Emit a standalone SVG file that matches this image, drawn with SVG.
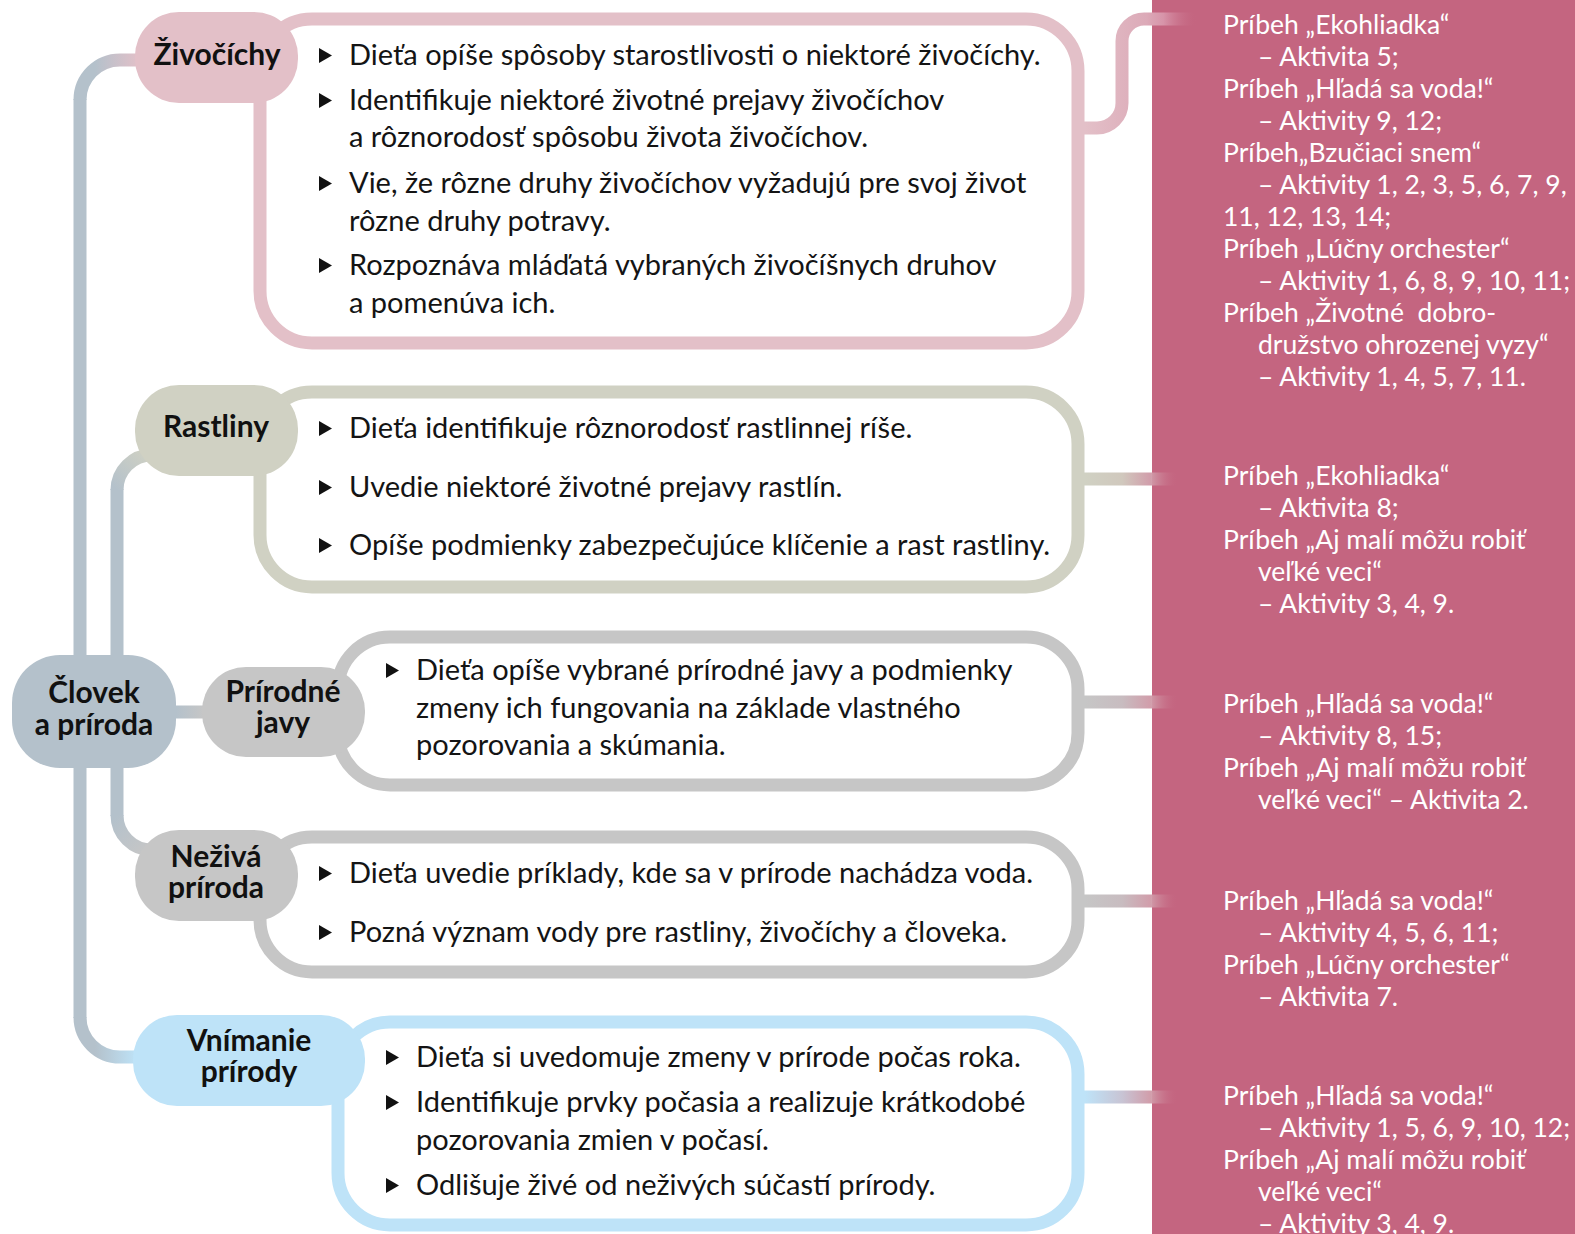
<svg xmlns="http://www.w3.org/2000/svg" width="1575" height="1234" viewBox="0 0 1575 1234">
<style>
.box{fill:#fff;stroke-width:13}
.t{font-family:Lato,"Liberation Sans",sans-serif;font-size:29px;fill:#141414}
.lb{font-family:Lato,"Liberation Sans",sans-serif;font-size:30px;font-weight:700;fill:#111;text-anchor:middle}
.r{font-family:Lato,"Liberation Sans",sans-serif;font-size:26.5px;fill:#fff}
.c{fill:none;stroke-width:13}
</style>
<defs>
<path id="bul" d="M0,-7.5 L13,0 L0,7.5 Z" fill="#111"/>
<linearGradient id="gZ" gradientUnits="userSpaceOnUse" x1="1085" y1="0" x2="1197" y2="0">
<stop offset="0" stop-color="#e3c0c8"/><stop offset="0.55" stop-color="#dcaab8"/><stop offset="0.7" stop-color="#d794a9"/><stop offset="1" stop-color="#c46580" stop-opacity="0"/>
</linearGradient>
<linearGradient id="gR" gradientUnits="userSpaceOnUse" x1="1085" y1="0" x2="1178" y2="0">
<stop offset="0" stop-color="#d0d1c3"/><stop offset="0.4" stop-color="#d0c8bd"/><stop offset="0.7" stop-color="#d19eab"/><stop offset="1" stop-color="#c46580" stop-opacity="0"/>
</linearGradient>
<linearGradient id="gG" gradientUnits="userSpaceOnUse" x1="1085" y1="0" x2="1178" y2="0">
<stop offset="0" stop-color="#c6c6c6"/><stop offset="0.4" stop-color="#c8bcc0"/><stop offset="0.7" stop-color="#d19eab"/><stop offset="1" stop-color="#c46580" stop-opacity="0"/>
</linearGradient>
<linearGradient id="gV" gradientUnits="userSpaceOnUse" x1="1085" y1="0" x2="1178" y2="0">
<stop offset="0" stop-color="#bee3f8"/><stop offset="0.4" stop-color="#c8c4d4"/><stop offset="0.7" stop-color="#d19eab"/><stop offset="1" stop-color="#c46580" stop-opacity="0"/>
</linearGradient>
<linearGradient id="gTop" gradientUnits="userSpaceOnUse" x1="95" y1="0" x2="140" y2="0">
<stop offset="0" stop-color="#b4c1cb"/><stop offset="1" stop-color="#e3c0c8"/>
</linearGradient>
<linearGradient id="gBot" gradientUnits="userSpaceOnUse" x1="95" y1="0" x2="138" y2="0">
<stop offset="0" stop-color="#b4c1cb"/><stop offset="1" stop-color="#bee3f8"/>
</linearGradient>
<linearGradient id="gRa" gradientUnits="userSpaceOnUse" x1="117" y1="490" x2="150" y2="452">
<stop offset="0" stop-color="#b4c1cb"/><stop offset="1" stop-color="#d0d1c3"/>
</linearGradient>
<linearGradient id="gNe" gradientUnits="userSpaceOnUse" x1="117" y1="815" x2="150" y2="850">
<stop offset="0" stop-color="#b4c1cb"/><stop offset="1" stop-color="#c6c6c6"/>
</linearGradient>
<linearGradient id="gPr" gradientUnits="userSpaceOnUse" x1="176" y1="0" x2="204" y2="0">
<stop offset="0" stop-color="#b4c1cb"/><stop offset="1" stop-color="#c6c6c6"/>
</linearGradient>
</defs>

<rect id="panel" x="1152" y="0" width="423" height="1234" fill="#c46580"/>

<g id="connectors">
<path class="c" stroke="url(#gTop)" d="M145,60 H120 A40,40 0 0 0 80,100"/>
<path class="c" stroke="#b4c1cb" d="M80,99 V1018"/>
<path class="c" stroke="url(#gBot)" d="M80,1017 A40,40 0 0 0 120,1057 H142"/>
<path class="c" stroke="#b4c1cb" d="M117,670 V489"/>
<path class="c" stroke="url(#gRa)" d="M117,490 A35,35 0 0 1 152,455"/>
<path class="c" stroke="#b4c1cb" d="M117,760 V816"/>
<path class="c" stroke="url(#gNe)" d="M117,815 A35,35 0 0 0 152,850"/>
<path class="c" stroke="url(#gPr)" d="M170,712 H210"/>
<path class="c" stroke="url(#gZ)" d="M1080,128 H1097 A25,25 0 0 0 1122,103 V41 A22,22 0 0 1 1144,19 H1197"/>
<path class="c" stroke="url(#gR)" d="M1080,479 H1178"/>
<path class="c" stroke="url(#gG)" d="M1080,702 H1178"/>
<path class="c" stroke="url(#gG)" d="M1080,901 H1178"/>
<path class="c" stroke="url(#gV)" d="M1080,1097 H1178"/>
</g>

<g id="node-clovek">
<rect x="12" y="655" width="164" height="113" rx="48" fill="#b4c1cb"/>
<text class="lb" x="94" y="703">Človek</text>
<text class="lb" x="94" y="735">a príroda</text>
</g>

<g id="node-zivocichy">
<rect class="box" x="260" y="19" width="818" height="324" rx="52" stroke="#e3c0c8"/>
<rect x="135" y="12" width="163" height="91" rx="44" fill="#e3c0c8"/>
<text class="lb" x="217" y="65">Živočíchy</text>
<use href="#bul" x="319" y="55.5"/>
<text class="t" x="349" y="65">Dieťa opíše spôsoby starostlivosti o niektoré živočíchy.</text>
<use href="#bul" x="319" y="100.5"/>
<text class="t" x="349" y="110">Identifikuje niektoré životné prejavy živočíchov</text>
<text class="t" x="349" y="147">a rôznorodosť spôsobu života živočíchov.</text>
<use href="#bul" x="319" y="183.5"/>
<text class="t" x="349" y="193">Vie, že rôzne druhy živočíchov vyžadujú pre svoj život</text>
<text class="t" x="349" y="231">rôzne druhy potravy.</text>
<use href="#bul" x="319" y="265.5"/>
<text class="t" x="349" y="275">Rozpoznáva mláďatá vybraných živočíšnych druhov</text>
<text class="t" x="349" y="313">a pomenúva ich.</text>
</g>

<g id="node-rastliny">
<rect class="box" x="260" y="392" width="818" height="195" rx="52" stroke="#d0d1c3"/>
<rect x="135" y="385" width="163" height="91" rx="44" fill="#d0d1c3"/>
<text class="lb" x="216" y="437">Rastliny</text>
<use href="#bul" x="319" y="428.5"/>
<text class="t" x="349" y="438">Dieťa identifikuje rôznorodosť rastlinnej ríše.</text>
<use href="#bul" x="319" y="487.5"/>
<text class="t" x="349" y="497">Uvedie niektoré životné prejavy rastlín.</text>
<use href="#bul" x="319" y="545.5"/>
<text class="t" x="349" y="555">Opíše podmienky zabezpečujúce klíčenie a rast rastliny.</text>
</g>

<g id="node-prirodne-javy">
<rect class="box" x="338" y="637" width="740" height="148" rx="52" stroke="#c6c6c6"/>
<rect x="202" y="667" width="163" height="90" rx="44" fill="#c6c6c6"/>
<text class="lb" x="283" y="702">Prírodné</text>
<text class="lb" x="283" y="733">javy</text>
<use href="#bul" x="386" y="670.5"/>
<text class="t" x="416" y="680">Dieťa opíše vybrané prírodné javy a podmienky</text>
<text class="t" x="416" y="718">zmeny ich fungovania na základe vlastného</text>
<text class="t" x="416" y="755">pozorovania a skúmania.</text>
</g>

<g id="node-neziva-priroda">
<rect class="box" x="260" y="837" width="818" height="135" rx="52" stroke="#c6c6c6"/>
<rect x="135" y="830" width="163" height="91" rx="44" fill="#c6c6c6"/>
<text class="lb" x="216" y="867">Neživá</text>
<text class="lb" x="216" y="898">príroda</text>
<use href="#bul" x="319" y="873.5"/>
<text class="t" x="349" y="883">Dieťa uvedie príklady, kde sa v prírode nachádza voda.</text>
<use href="#bul" x="319" y="932.5"/>
<text class="t" x="349" y="942">Pozná význam vody pre rastliny, živočíchy a človeka.</text>
</g>

<g id="node-vnimanie-prirody">
<rect class="box" x="338" y="1022" width="740" height="203" rx="52" stroke="#bee3f8"/>
<rect x="133" y="1015" width="232" height="91" rx="44" fill="#bee3f8"/>
<text class="lb" x="249" y="1051">Vnímanie</text>
<text class="lb" x="249" y="1082">prírody</text>
<use href="#bul" x="386" y="1057.5"/>
<text class="t" x="416" y="1067">Dieťa si uvedomuje zmeny v prírode počas roka.</text>
<use href="#bul" x="386" y="1102.5"/>
<text class="t" x="416" y="1112">Identifikuje prvky počasia a realizuje krátkodobé</text>
<text class="t" x="416" y="1150">pozorovania zmien v počasí.</text>
<use href="#bul" x="386" y="1185.5"/>
<text class="t" x="416" y="1195">Odlišuje živé od neživých súčastí prírody.</text>
</g>

<g id="ref-zivocichy">
<text class="r" x="1223" y="34">Príbeh „Ekohliadka“</text>
<text class="r" x="1258" y="66">– Aktivita 5;</text>
<text class="r" x="1223" y="98">Príbeh „Hľadá sa voda!“</text>
<text class="r" x="1258" y="130">– Aktivity 9, 12;</text>
<text class="r" x="1223" y="162">Príbeh„Bzučiaci snem“</text>
<text class="r" x="1258" y="194">– Aktivity 1, 2, 3, 5, 6, 7, 9,</text>
<text class="r" x="1223" y="226">11, 12, 13, 14;</text>
<text class="r" x="1223" y="258">Príbeh „Lúčny orchester“</text>
<text class="r" x="1258" y="290">– Aktivity 1, 6, 8, 9, 10, 11;</text>
<text class="r" x="1223" y="322" xml:space="preserve">Príbeh „Životné  dobro-</text>
<text class="r" x="1258" y="354">družstvo ohrozenej vyzy“</text>
<text class="r" x="1258" y="386">– Aktivity 1, 4, 5, 7, 11.</text>
</g>
<g id="ref-rastliny">
<text class="r" x="1223" y="485">Príbeh „Ekohliadka“</text>
<text class="r" x="1258" y="517">– Aktivita 8;</text>
<text class="r" x="1223" y="549">Príbeh „Aj malí môžu robiť</text>
<text class="r" x="1258" y="581">veľké veci“</text>
<text class="r" x="1258" y="613">– Aktivity 3, 4, 9.</text>
</g>
<g id="ref-prirodne-javy">
<text class="r" x="1223" y="713">Príbeh „Hľadá sa voda!“</text>
<text class="r" x="1258" y="745">– Aktivity 8, 15;</text>
<text class="r" x="1223" y="777">Príbeh „Aj malí môžu robiť</text>
<text class="r" x="1258" y="809">veľké veci“ – Aktivita 2.</text>
</g>
<g id="ref-neziva-priroda">
<text class="r" x="1223" y="910">Príbeh „Hľadá sa voda!“</text>
<text class="r" x="1258" y="942">– Aktivity 4, 5, 6, 11;</text>
<text class="r" x="1223" y="974">Príbeh „Lúčny orchester“</text>
<text class="r" x="1258" y="1006">– Aktivita 7.</text>
</g>
<g id="ref-vnimanie-prirody">
<text class="r" x="1223" y="1105">Príbeh „Hľadá sa voda!“</text>
<text class="r" x="1258" y="1137">– Aktivity 1, 5, 6, 9, 10, 12;</text>
<text class="r" x="1223" y="1169">Príbeh „Aj malí môžu robiť</text>
<text class="r" x="1258" y="1201">veľké veci“</text>
<text class="r" x="1258" y="1233">– Aktivity 3, 4, 9.</text>
</g>
</svg>
